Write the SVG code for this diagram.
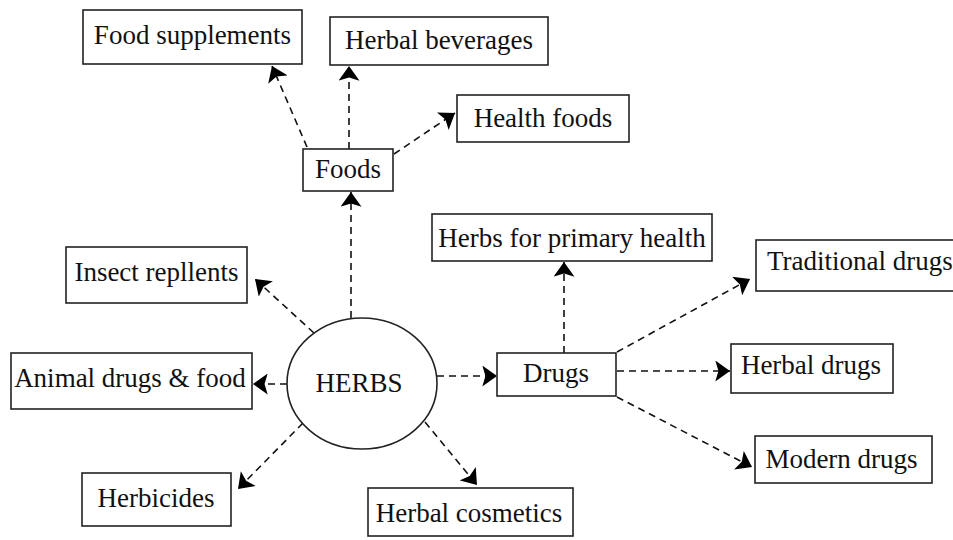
<svg xmlns="http://www.w3.org/2000/svg" width="953" height="540" viewBox="0 0 953 540">
<style>
.box{fill:#fff;stroke:#222;stroke-width:1.6}
.lbl{font-family:"Liberation Serif","DejaVu Serif",serif;font-size:27px;fill:#111;text-anchor:middle}
.con{fill:none;stroke:#111;stroke-width:1.6;stroke-dasharray:7 5;marker-end:url(#ah)}
</style>
<defs>
<marker id="ah" viewBox="0 0 14 20" refX="14" refY="10" markerWidth="15" markerHeight="21" markerUnits="userSpaceOnUse" orient="auto">
<path d="M0,0 L14,10 L0,20 L3,10 Z" fill="#000"/>
</marker>
</defs>
<rect width="953" height="540" fill="#fff"/>
<g id="connectors">
<line class="con" x1="307" y1="147" x2="272" y2="66"/>
<line class="con" x1="349" y1="149" x2="349" y2="66"/>
<line class="con" x1="394" y1="154" x2="455" y2="113"/>
<line class="con" x1="351" y1="318" x2="351" y2="192"/>
<line class="con" x1="314" y1="333" x2="255" y2="279"/>
<line class="con" x1="287" y1="384" x2="253" y2="384"/>
<line class="con" x1="303" y1="423" x2="238" y2="489"/>
<line class="con" x1="425" y1="422" x2="477" y2="485"/>
<line class="con" x1="437" y1="376" x2="497" y2="376"/>
<line class="con" x1="564" y1="353" x2="564" y2="262"/>
<line class="con" x1="617" y1="352" x2="750" y2="279"/>
<line class="con" x1="617" y1="371" x2="730" y2="371"/>
<line class="con" x1="617" y1="397" x2="752" y2="467"/>
</g>
<g id="herbs">
<ellipse cx="362" cy="383.5" rx="75" ry="65.5" fill="#fff" stroke="#222" stroke-width="1.6"/>
<text class="lbl" x="359" y="392">HERBS</text>
</g>
<g id="food-supplements">
<rect class="box" x="83" y="10" width="219" height="54"/>
<text class="lbl" x="192.5" y="44">Food supplements</text>
</g>
<g id="herbal-beverages">
<rect class="box" x="330" y="17" width="218" height="48"/>
<text class="lbl" x="439" y="49">Herbal beverages</text>
</g>
<g id="foods">
<rect class="box" x="303" y="149" width="90" height="42"/>
<text class="lbl" x="348" y="178">Foods</text>
</g>
<g id="health-foods">
<rect class="box" x="457" y="95" width="172" height="47"/>
<text class="lbl" x="543" y="127">Health foods</text>
</g>
<g id="insect-repellents">
<rect class="box" x="66" y="247" width="181" height="56"/>
<text class="lbl" x="156.5" y="281">Insect repllents</text>
</g>
<g id="animal-drugs">
<rect class="box" x="11" y="353" width="241" height="56"/>
<text class="lbl" x="130" y="387">Animal drugs &amp; food</text>
</g>
<g id="herbicides">
<rect class="box" x="82" y="473" width="149" height="53"/>
<text class="lbl" x="156" y="507">Herbicides</text>
</g>
<g id="herbal-cosmetics">
<rect class="box" x="368" y="488" width="205" height="48"/>
<text class="lbl" x="469" y="522">Herbal cosmetics</text>
</g>
<g id="drugs">
<rect class="box" x="497" y="353" width="119" height="43"/>
<text class="lbl" x="556" y="382">Drugs</text>
</g>
<g id="herbs-primary-health">
<rect class="box" x="432" y="214" width="280" height="47"/>
<text class="lbl" x="572" y="247">Herbs for primary health</text>
</g>
<g id="traditional-drugs">
<rect class="box" x="756" y="240" width="210" height="51"/>
<text class="lbl" x="767" y="270" style="text-anchor:start">Traditional drugs</text>
</g>
<g id="herbal-drugs">
<rect class="box" x="731" y="344" width="162" height="49"/>
<text class="lbl" x="811" y="374">Herbal drugs</text>
</g>
<g id="modern-drugs">
<rect class="box" x="755" y="436" width="177" height="47"/>
<text class="lbl" x="841.5" y="468">Modern drugs</text>
</g>
</svg>
